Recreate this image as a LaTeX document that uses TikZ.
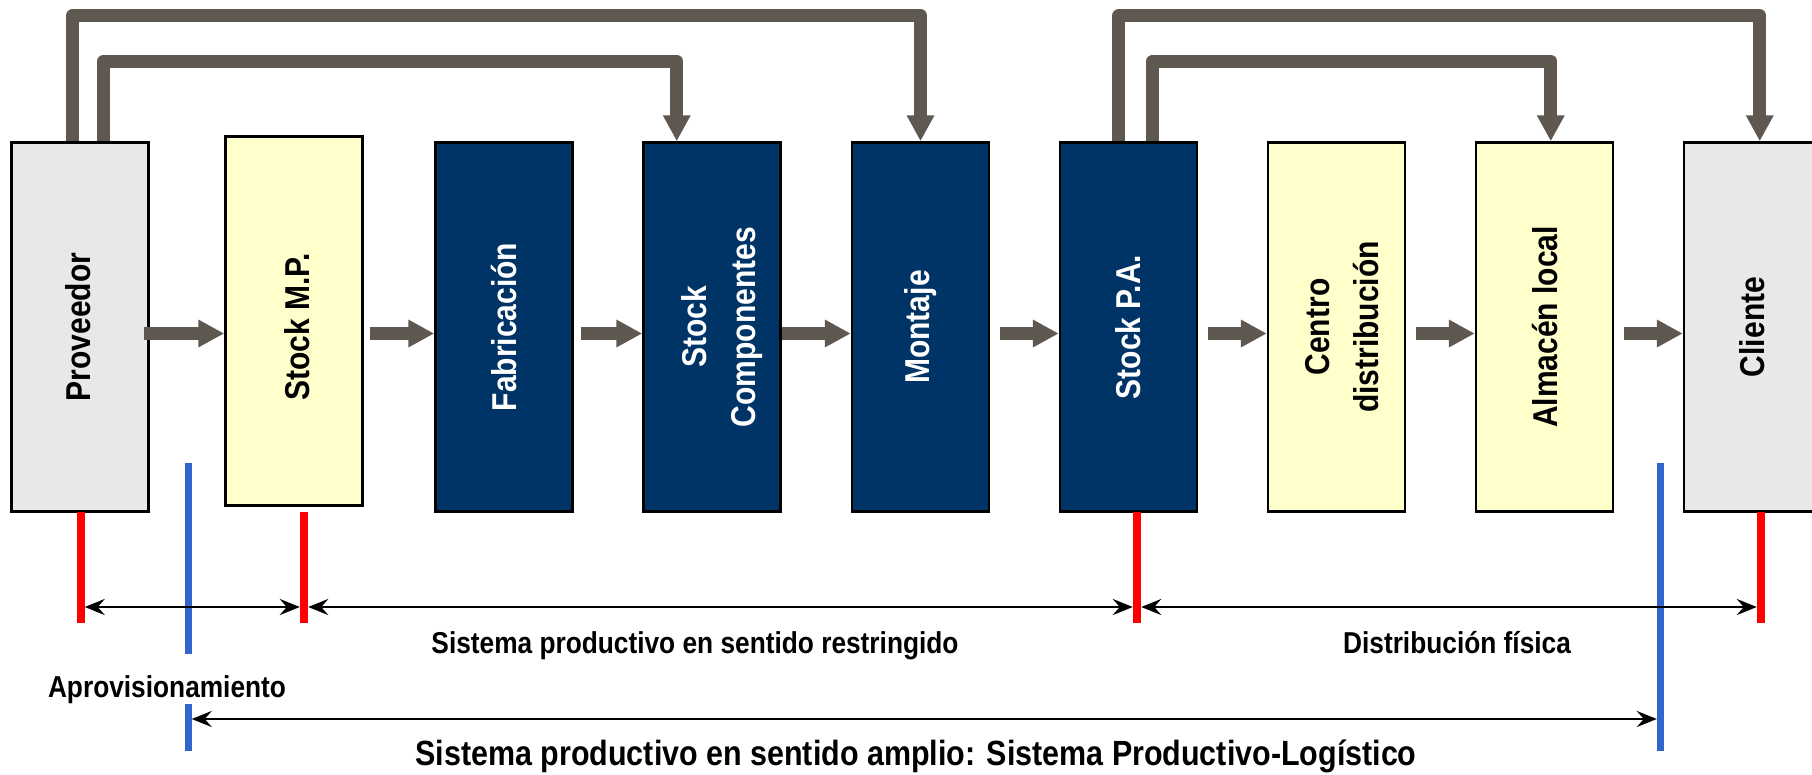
\documentclass[tikz,border=0pt]{standalone}
\usepackage{fontspec}
\setmainfont{Liberation Sans}[FakeStretch=0.87]
\usetikzlibrary{arrows.meta,calc}
\definecolor{navy}{RGB}{0,51,102}
\definecolor{pale}{RGB}{255,255,204}
\definecolor{lgray}{RGB}{232,232,232}
\definecolor{flow}{RGB}{94,88,80}
\definecolor{bblue}{RGB}{51,102,204}
\definecolor{rred}{RGB}{255,0,0}
\begin{document}
\begin{tikzpicture}[x=1pt,y=-1pt,
  box/.style={draw=black,line width=2.5pt,minimum width=137pt,minimum height=369pt,inner sep=0pt},
  navybox/.style={box,fill=navy},
  yelbox/.style={box,fill=pale},
  graybox/.style={box,fill=lgray},
  lbl/.style={rotate=90,align=center,font=\bfseries\fontsize{34.5}{49}\selectfont,inner sep=0pt},
  wlbl/.style={lbl,text=white},
  flowarrow/.style={draw=flow,line width=13pt,-{Triangle[length=26pt,width=26pt]}},
  loopline/.style={flowarrow,line join=round},
  redbar/.style={fill=rred,minimum width=8pt,minimum height=111pt,inner sep=0pt,draw=none},
  bluebar/.style={fill=bblue,minimum width=7pt,inner sep=0pt,draw=none},
  dim/.style={draw=black,line width=2.7pt,{Stealth[length=20pt,width=16pt,inset=7pt]}-{Stealth[length=20pt,width=16pt,inset=7pt]}},
  caption/.style={anchor=base,font=\bfseries\fontsize{30.2}{36}\selectfont,inner sep=0pt},
]
\useasboundingbox (0,0) rectangle (1812,774);

% boxes
\node[graybox] (prov) at (80,327) {};
\node[yelbox]  (smp)  at (294,321) {};
\node[navybox] (fab)  at (504,327) {};
\node[navybox] (sc)   at (712,327) {};
\node[navybox] (mon)  at (920.5,327) {};
\node[navybox] (spa)  at (1128.5,327) {};
\node[yelbox]  (cen)  at (1336.5,327) {};
\node[yelbox]  (alm)  at (1544.5,327) {};
\node[graybox] (cli)  at (1752.5,327) {};

% labels
\node[lbl]  (provt) at (78,327) {Proveedor};
\node[lbl]  (smpt)  at (297,327) {Stock M.P.};
\node[wlbl] (fabt)  at (fab) {Fabricación};
\node[wlbl] (sct)   at ($(sc)+(10,0)$) {Stock\\Componentes};
\node[wlbl] (mont)  at (mon) {Montaje};
\node[wlbl] (spat)  at (spa) {Stock P.A.};
\node[lbl]  (cent)  at ($(cen)+(6,0)$) {Centro\\distribución};
\node[lbl]  (almt)  at (alm) {Almacén local};
\node[lbl]  (clit)  at (cli) {Cliente};

% horizontal flow arrows
\coordinate (ay) at (0,333.5);
\draw[flowarrow] ($(prov.east|-ay)+(-6,0)$) -- (smp.west|-ay);
\draw[flowarrow] ($(smp.east|-ay)+(6,0)$) -- (fab.west|-ay);
\draw[flowarrow] ($(fab.east|-ay)+(7,0)$) -- (sc.west|-ay);
\draw[flowarrow] (sc.east|-ay) -- (mon.west|-ay);
\draw[flowarrow] ($(mon.east|-ay)+(10,0)$) -- (spa.west|-ay);
\draw[flowarrow] ($(spa.east|-ay)+(10,0)$) -- (cen.west|-ay);
\draw[flowarrow] ($(cen.east|-ay)+(10,0)$) -- (alm.west|-ay);
\draw[flowarrow] ($(alm.east|-ay)+(10,0)$) -- (cli.west|-ay);

% top loops
\coordinate (yo) at (0,15.7);
\coordinate (yi) at (0,61);
\coordinate (o1) at ($(prov.north west)+(62.5,0)$);
\coordinate (i1) at ($(prov.north west)+(93.5,0)$);
\coordinate (i1e) at ($(sc.north west)+(34.5,0)$);
\coordinate (o2) at ($(spa.north west)+(60,0)$);
\coordinate (i2) at ($(spa.north west)+(94,0)$);
\coordinate (i2e) at ($(alm.north west)+(76,0)$);
\coordinate (o2e) at ($(cli.north west)+(77,0)$);
\draw[loopline] (o1) -- (o1|-yo) -- (mon.north|-yo) -- (mon.north);
\draw[loopline] (i1) -- (i1|-yi) -- (i1e|-yi) -- (i1e);
\draw[loopline] (o2) -- (o2|-yo) -- (o2e|-yo) -- (o2e);
\draw[loopline] (i2) -- (i2|-yi) -- (i2e|-yi) -- (i2e);

% bars
\node[redbar] (r1) at (80.5,567.5) {};
\node[redbar] (r2) at (304,567.5) {};
\node[redbar] (r3) at (1137,567.5) {};
\node[redbar] (r4) at (1761,567.5) {};
\node[bluebar,minimum height=191pt] (b1)  at (188,558.5) {};
\node[bluebar,minimum height=47pt]  (b1l) at (188,727.5) {};
\node[bluebar,minimum height=288pt] (b2)  at (1660.5,607) {};

% dimension arrows
\coordinate (d1) at (0,607);
\coordinate (d2) at (0,719);
\draw[dim] (r1.east|-d1) -- (r2.west|-d1);
\draw[dim] (r2.east|-d1) -- (r3.west|-d1);
\draw[dim] (r3.east|-d1) -- (r4.west|-d1);
\draw[dim] (b1l.east|-d2) -- (b2.west|-d2);

% captions
\node[caption] (t1) at (695,653) {Sistema productivo en sentido restringido};
\node[caption] (t2) at (1457,653) {Distribución física};
\node[caption] (t3) at (167,697) {Aprovisionamiento};
\node[caption,font=\bfseries\fontsize{35}{42}\selectfont] (t4) at (916,765) {Sistema productivo en sentido amplio: Sistema Productivo-Logístico};
\end{tikzpicture}
\end{document}
